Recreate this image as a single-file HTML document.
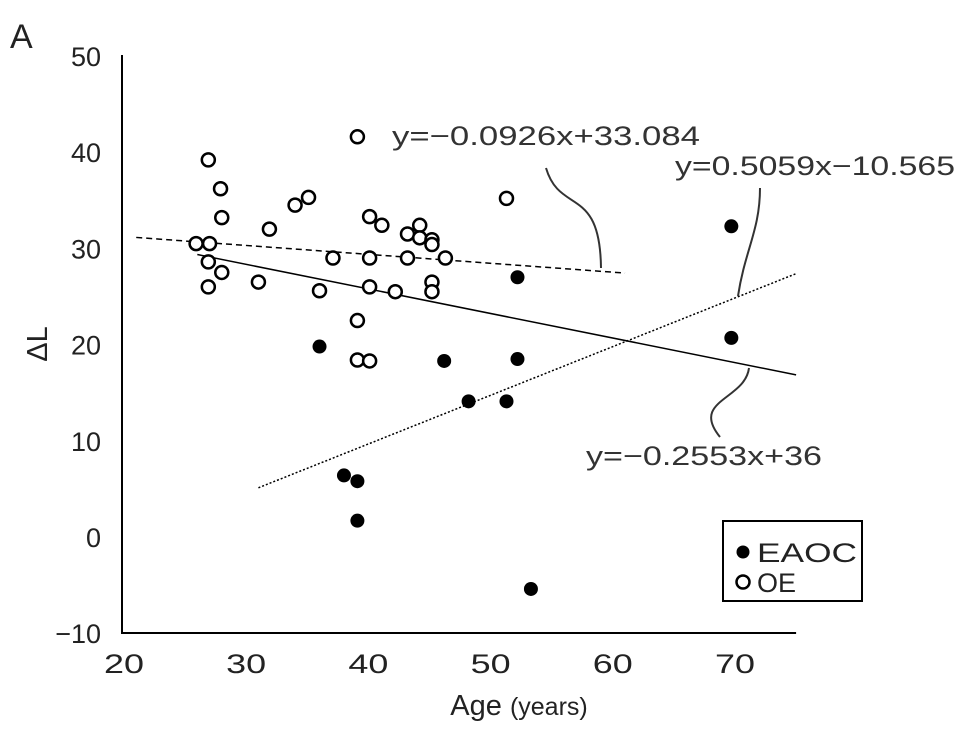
<!DOCTYPE html>
<html><head><meta charset="utf-8"><style>
body{margin:0;background:#fff}
svg{display:block;font-family:"Liberation Sans",sans-serif}
</style></head><body>
<svg id="chart" width="969" height="741" viewBox="0 0 969 741">
<text x="10" y="48" font-size="34" fill="#222">A</text>
<g id="axes"></g>
<g id="lines"></g>
<g id="points"></g>
<g id="annot" font-size="27" fill="#333">
<text x="392" y="145" textLength="308" lengthAdjust="spacingAndGlyphs">y=−0.0926x+33.084</text>
<path d="M546,168 C560,215 600,185 601,268" fill="none" stroke="#333" stroke-width="2"/>
<text x="675" y="175" textLength="280" lengthAdjust="spacingAndGlyphs">y=0.5059x−10.565</text>
<path d="M760,188 C760,230 745,250 738,296" fill="none" stroke="#333" stroke-width="2"/>
<text x="586" y="465" textLength="236" lengthAdjust="spacingAndGlyphs">y=−0.2553x+36</text>
<path d="M720,437 C690,400 745,400 749,368" fill="none" stroke="#333" stroke-width="2"/>
</g>
<g>
<rect x="723" y="521" width="139" height="80" fill="#fff" stroke="#000" stroke-width="2"/>
<circle cx="743" cy="552" r="6.5" fill="#000"/>
<text x="757" y="562" font-size="27" fill="#222" textLength="100" lengthAdjust="spacingAndGlyphs">EAOC</text>
<circle cx="743" cy="582" r="6.5" fill="#fff" stroke="#000" stroke-width="2.5"/>
<text x="757" y="592" font-size="27" fill="#222">OE</text>
</g>
</svg>
<script>
const xTicks=[20,30,40,50,60,70];
const yTicks=[-10,0,10,20,30,40,50];
const oeX=[25.9,27.0,26.9,27.9,28.0,26.9,26.9,28.0,31.0,31.9,34.0,35.1,36.0,37.1,39.1,40.1,41.1,40.1,40.1,42.2,39.1,39.1,40.1,43.2,44.2,44.2,45.2,45.2,43.2,45.2,45.2,46.3,51.3];
const oeY=[30.5,30.5,39.2,36.2,33.2,28.6,26.0,27.5,26.5,32.0,34.5,35.3,25.6,29.0,41.6,33.3,32.4,29.0,26.0,25.5,22.5,18.4,18.3,31.5,32.4,31.1,30.9,30.4,29.0,26.5,25.5,29.0,35.2];
const eaocX=[36.0,38.0,39.1,39.1,46.2,48.2,51.3,52.2,52.2,53.3,69.7,69.7];
const eaocY=[19.8,6.4,5.8,1.7,18.3,14.1,14.1,27.0,18.5,-5.4,32.3,20.7];
const fitSlopes=[-0.0926,-0.2553,0.5059];
const fitIntercepts=[33.084,36,-10.565];
const fitRanges=[[21,61],[26,75],[31,75]];
const fitDash=["6,4","","2,2"];
const fitNames=["oe-trendline","all-trendline","eaoc-trendline"];
const NS="http://www.w3.org/2000/svg";
const sx=v=>124+(v-20)*12.22, sy=v=>537-v*9.62;
function mk(t,a,p){const e=document.createElementNS(NS,t);for(const k in a)e.setAttribute(k,a[k]);p.appendChild(e);return e;}
const ax=document.getElementById('axes');
let l=mk('line',{x1:122,y1:55,x2:122,y2:634,stroke:'#000','stroke-width':2},ax);


l=mk('line',{x1:121,y1:633,x2:sx(75),y2:633,stroke:'#000','stroke-width':2},ax);


xTicks.forEach(v=>{const t=mk('text',{x:sx(v),y:673,'font-size':27,'text-anchor':'middle',fill:'#222',textLength:40,lengthAdjust:'spacingAndGlyphs'},ax);t.textContent=v;

});
yTicks.forEach(v=>{const t=mk('text',{x:101,y:sy(v)+10,'font-size':27,'text-anchor':'end',fill:'#222'},ax);t.textContent=v<0?'−'+(-v):v;

});
let t=mk('text',{x:519,y:715,'font-size':29,'text-anchor':'middle',fill:'#222'},ax);t.innerHTML='Age <tspan font-size="25">(years)</tspan>';


t=mk('text',{x:0,y:0,'font-size':29,'text-anchor':'middle',fill:'#222',transform:'translate(47,344) rotate(-90)'},ax);t.textContent='ΔL';


const lg=document.getElementById('lines');
fitSlopes.forEach((m,i)=>{const [a,b]=fitRanges[i];
const e=mk('line',{x1:sx(a),y1:sy(m*a+fitIntercepts[i]),x2:sx(b),y2:sy(m*b+fitIntercepts[i]),stroke:'#000','stroke-width':1.5},lg);
if(fitDash[i])e.setAttribute('stroke-dasharray',fitDash[i]);

});
const pg=document.getElementById('points');
oeX.forEach((x,i)=>{const c=mk('circle',{cx:sx(x),cy:sy(oeY[i]),r:6.5,fill:'#fff',stroke:'#000','stroke-width':2.5},pg);

});
eaocX.forEach((x,i)=>{const c=mk('circle',{cx:sx(x),cy:sy(eaocY[i]),r:7,fill:'#000'},pg);

});
</script>
</body></html>
